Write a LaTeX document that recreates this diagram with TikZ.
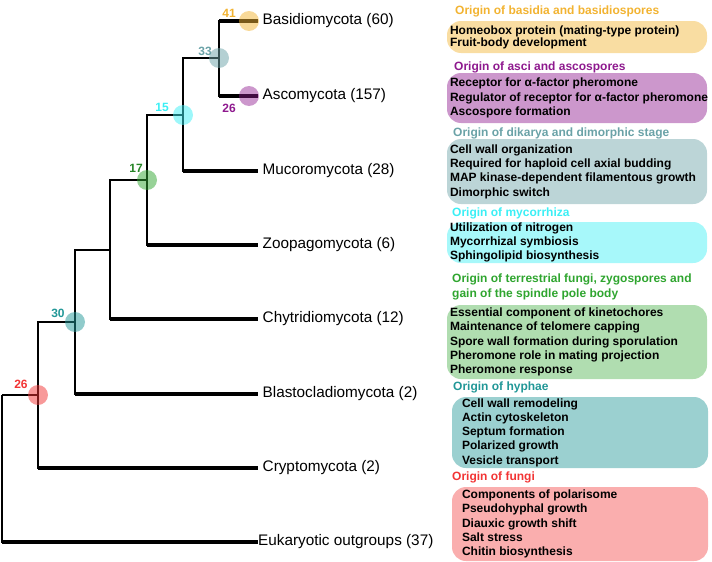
\documentclass[tikz,border=0pt]{standalone}
\usepackage{fontspec}
\setmainfont{Liberation Sans}
\definecolor{mGold}{HTML}{F2B331}
\definecolor{mPurple}{HTML}{8E198E}
\definecolor{mSlate}{HTML}{6AA2A7}
\definecolor{mCyan}{HTML}{3BEFF5}
\definecolor{mGreen}{HTML}{2FA52F}
\definecolor{mTeal}{HTML}{219797}
\definecolor{mRed}{HTML}{F23434}

\begin{document}
\begin{tikzpicture}[x=1pt, y=-1pt,
      edge/.style={line width=1.3pt},
      tipline/.style={line width=3.2pt},
      dot/.style={circle, minimum size=20pt, inner sep=0pt, fill opacity=0.5},
      num/.style={inner sep=0pt, font=\fontsize{12}{14}\selectfont\bfseries},
      taxon/.style={anchor=west, inner xsep=4.5pt, inner ysep=0pt, font=\fontsize{15.3}{18}\selectfont},
      head/.style={anchor=west, inner sep=0pt, align=left, font=\fontsize{12}{15}\selectfont\bfseries},
      panel/.style={rounded corners=14pt, minimum width=260pt, inner sep=0pt},
      items/.style={anchor=west, inner sep=0pt, align=left, font=\fontsize{12}{14.3}\selectfont\bfseries}]
    \useasboundingbox (0,0) rectangle (712,562);
    \coordinate (jRoot) at (2,395);
    \coordinate (jFun) at (38,395);
    \coordinate (jHyp) at (75,322);
    \coordinate (jChy) at (110,250);
    \coordinate (jTer) at (147,180);
    \coordinate (jMyc) at (183,115);
    \coordinate (jDik) at (219,58);
    \node[taxon] (basi) at (258,21) {Basidiomycota (60)};
    \node[taxon] (asco) at (258,96) {Ascomycota (157)};
    \node[taxon] (muco) at (258,171) {Mucoromycota (28)};
    \node[taxon] (zoop) at (258,245) {Zoopagomycota (6)};
    \node[taxon] (chyt) at (258,319) {Chytridiomycota (12)};
    \node[taxon] (blas) at (258,394) {Blastocladiomycota (2)};
    \node[taxon] (cryp) at (258,468) {Cryptomycota (2)};
    \node[taxon, inner xsep=0pt] (euka) at (258,542) {Eukaryotic outgroups (37)};
    \draw[edge] (jRoot) -- (jFun);
    \draw[edge] (jFun) |- (jHyp);
    \draw[edge] (jHyp) |- (jChy);
    \draw[edge] (jChy) |- (jTer);
    \draw[edge] (jTer) |- (jMyc);
    \draw[edge] (jMyc) |- (jDik);
    \foreach \j/\t in {jDik/basi, jDik/asco, jMyc/muco, jTer/zoop, jChy/chyt, jHyp/blas, jFun/cryp, jRoot/euka} {
      \draw[edge] (\j) |- (\t.west);
      \draw[tipline] (\j |- \t.west) -- (\t.west);
    }
    \node[dot, fill=mRed] (oFun) at (jFun) {};
    \node[dot, fill=mTeal] (oHyp) at (jHyp) {};
    \node[dot, fill=mGreen] (oTer) at (jTer) {};
    \node[dot, fill=mCyan] (oMyc) at (jMyc) {};
    \node[dot, fill=mSlate] (oDik) at (jDik) {};
    \node[dot, fill=mGold] (oBas) at (249,21) {};
    \node[dot, fill=mPurple, fill opacity=0.45] (oAsc) at (249,96) {};
    \node[num, text=mGold] (n41) at (229,13) {41};
    \node[num, text=mSlate] (n33) at (205,51) {33};
    \node[num, text=mPurple] (n26a) at (229,108) {26};
    \node[num, text=mCyan] (n15) at (162,107) {15};
    \node[num, text=mGreen!80!black] (n17) at (136,168) {17};
    \node[num, text=mTeal] (n30) at (58,313) {30};
    \node[num, text=mRed] (n26b) at (21,384) {26};
    \node[head, text=mGold] (h1) at (455,11) {Origin of basidia and basidiospores};
    \node[panel, fill=mGold!45, minimum height=32pt] (b1) at (577,37) {};
    \node[items, font=\fontsize{12}{12}\selectfont\bfseries] (l1) at ([xshift=3pt]b1.west) {Homeobox protein (mating-type protein)\\Fruit-body development};
    \node[head, text=mPurple] (h2) at (454,67) {Origin of asci and ascospores};
    \node[panel, fill=mPurple!45, minimum height=50pt] (b2) at (577,98) {};
    \node[items] (l2) at ([xshift=3pt]b2.west) {Receptor for α-factor pheromone\\Regulator of receptor for α-factor pheromone\\Ascospore formation};
    \node[head, text=mSlate] (h3) at (453,133) {Origin of dikarya and dimorphic stage};
    \node[panel, fill=mSlate!45, minimum height=65pt] (b3) at (577,171.5) {};
    \node[items] (l3) at ([xshift=3pt]b3.west) {Cell wall organization\\Required for haploid cell axial budding\\MAP kinase-dependent filamentous growth\\Dimorphic switch};
    \node[head, text=mCyan] (h4) at (452,213) {Origin of mycorrhiza};
    \node[panel, fill=mCyan!45, minimum height=41pt] (b4) at (577,242.5) {};
    \node[items] (l4) at ([xshift=3pt]b4.west) {Utilization of nitrogen\\Mycorrhizal symbiosis\\Sphingolipid biosynthesis};
    \node[head, text=mGreen] (h5) at (452,286.5) {Origin of terrestrial fungi, zygospores and\\gain of the spindle pole body};
    \node[panel, fill=mGreen!38, minimum height=74pt] (b5) at (577,342) {};
    \node[items] (l5) at ([xshift=3pt]b5.west) {Essential component of kinetochores\\Maintenance of telomere capping\\Spore wall formation during sporulation\\Pheromone role in mating projection\\Pheromone response};
    \node[head, text=mTeal] (h6) at (453,387) {Origin of hyphae};
    \node[panel, fill=mTeal!45, minimum width=256pt, minimum height=71pt] (b6) at (580,432.5) {};
    \node[items] (l6) at ([xshift=10pt]b6.west) {Cell wall remodeling\\Actin cytoskeleton\\Septum formation\\Polarized growth\\Vesicle transport};
    \node[head, text=mRed] (h7) at (452,477) {Origin of fungi};
    \node[panel, fill=mRed!40, minimum width=256pt, minimum height=74pt] (b7) at (580,524) {};
    \node[items] (l7) at ([xshift=10pt]b7.west) {Components of polarisome\\Pseudohyphal growth\\Diauxic growth shift\\Salt stress\\Chitin biosynthesis};
  \end{tikzpicture}
\end{document}
